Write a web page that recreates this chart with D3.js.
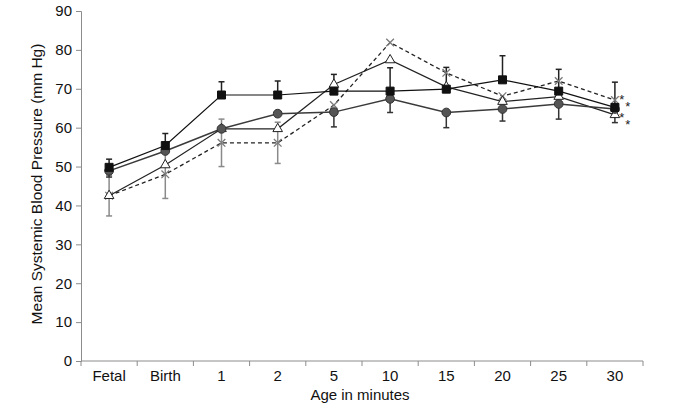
<!DOCTYPE html>
<html><head><meta charset="utf-8">
<script src="https://cdn.jsdelivr.net/npm/d3@7"></script>
<style>
html,body{margin:0;padding:0;background:#fff;}
svg{display:block;font-family:"Liberation Sans",Arial,sans-serif;}
</style></head>
<body><svg id="chart" width="675" height="408"></svg>
<script>
const categories = ["Fetal","Birth","1","2","5","10","15","20","25","30"];
const yTicks = [0,10,20,30,40,50,60,70,80,90];
const squareVals   = [49.8, 55.4, 68.4, 68.4, 69.4, 69.4, 69.9, 72.3, 69.4, 65.2];
const circleVals   = [48.9, 54.0, 59.7, 63.6, 64.0, 67.4, 63.9, 64.8, 66.1, 64.8];
const triangleVals = [42.5, 50.4, 59.7, 59.7, 71.1, 77.4, 70.5, 66.7, 68.0, 63.3];
const crossVals    = [42.5, 48.0, 56.1, 56.1, 65.8, 81.9, 74.1, 68.1, 72.0, 67.1];
const squareUpper  = [51.9, 58.5, 71.8, 72.0, 73.7, 75.4, 75.5, 78.5, 75.0, 71.7];
const circleLower  = [47.3, null, null, null, 60.2, 63.9, 60.0, 61.7, 62.2, 61.3];
const crossLower   = [37.3, 41.8, 50.0, 50.8, null, null, null, null, null, null];
const crossUpper   = [47.7, 54.2, 62.2, 61.4, null, null, null, null, null, null];
const asteriskVals = [68.1, 66.2, 63.3, 61.7];
const yTitle = "Mean Systemic Blood Pressure (mm Hg)";
const xTitle = "Age in minutes";

const svg = d3.select("#chart");
const x = d3.scaleBand().domain(categories).range([81, 643]).padding(0);
const y = d3.scaleLinear().domain([0, 90]).range([361, 11]);
const cx = c => x(c) + x.bandwidth() / 2;
const axisColor = "#8c8c8c";

// Y axis
const ya = svg.append("g").attr("transform", "translate(81,0)")
  .call(d3.axisLeft(y).tickValues(yTicks).tickSize(5).tickPadding(4).tickFormat(d3.format("d")));
ya.select(".domain").attr("stroke", axisColor);
ya.selectAll(".tick line").attr("stroke", axisColor);
ya.selectAll(".tick text").attr("font-size", 15).attr("fill", "#111")
  .attr("font-family", "'Liberation Sans',Arial,sans-serif");

// X axis (ticks at band boundaries)
const xa = svg.append("g");
xa.append("line").attr("x1", x.range()[0]).attr("x2", x.range()[1])
  .attr("y1", y(0)).attr("y2", y(0)).attr("stroke", axisColor);
const bounds = categories.map(c => x(c)).concat([x.range()[1]]);
xa.selectAll("line.tk").data(bounds).join("line").attr("class", "tk")
  .attr("x1", d => d).attr("x2", d => d).attr("y1", y(0)).attr("y2", y(0) + 5)
  .attr("stroke", axisColor);
xa.selectAll("text").data(categories).join("text")
  .attr("x", d => cx(d)).attr("y", 381).attr("text-anchor", "middle")
  .attr("font-size", 15).attr("fill", "#111").text(d => d);

// Titles
svg.append("text").attr("x", 360).attr("y", 400).attr("text-anchor", "middle")
  .attr("font-size", 15).attr("fill", "#111").text(xTitle);
svg.append("text").attr("transform", "translate(42,184) rotate(-90)")
  .attr("text-anchor", "middle").attr("font-size", 15.5).attr("fill", "#111").text(yTitle);

// Error bars
function errBars(vals, ends, color) {
  const d = categories.map((c, i) => ({c, v: vals[i], e: ends[i]})).filter(o => o.e != null);
  const g = svg.append("g").attr("stroke", color).attr("stroke-width", 1.5);
  g.selectAll("line.v").data(d).join("line").attr("class", "v")
    .attr("x1", o => cx(o.c)).attr("x2", o => cx(o.c)).attr("y1", o => y(o.v)).attr("y2", o => y(o.e));
  g.selectAll("line.cap").data(d).join("line").attr("class", "cap")
    .attr("x1", o => cx(o.c) - 3).attr("x2", o => cx(o.c) + 3).attr("y1", o => y(o.e)).attr("y2", o => y(o.e));
}
errBars(crossVals, crossLower, "#8a8a8a");
errBars(crossVals, crossUpper, "#8a8a8a");
errBars(squareVals, squareUpper, "#222");
errBars(circleVals, circleLower, "#333");

// Lines
const lineGen = vals => d3.line().x((d, i) => cx(categories[i])).y(d => y(d))(vals);
svg.append("path").attr("d", lineGen(crossVals)).attr("fill", "none")
  .attr("stroke", "#222").attr("stroke-width", 1.3).attr("stroke-dasharray", "4,3");
svg.append("path").attr("d", lineGen(triangleVals)).attr("fill", "none")
  .attr("stroke", "#222").attr("stroke-width", 1.2);
svg.append("path").attr("d", lineGen(circleVals)).attr("fill", "none")
  .attr("stroke", "#3a3a3a").attr("stroke-width", 1.5);
svg.append("path").attr("d", lineGen(squareVals)).attr("fill", "none")
  .attr("stroke", "#111").attr("stroke-width", 1.2);

// Markers
const cross = d3.symbol().type(d3.symbolX).size(40);
svg.append("g").selectAll("path").data(crossVals).join("path")
  .attr("transform", (d, i) => `translate(${cx(categories[i])},${y(d)})`)
  .attr("d", cross).attr("fill", "none").attr("stroke", "#7a7a7a").attr("stroke-width", 1.3);
const tri = d3.symbol().type(d3.symbolTriangle).size(40);
svg.append("g").selectAll("path").data(triangleVals).join("path")
  .attr("transform", (d, i) => `translate(${cx(categories[i])},${y(d)})`)
  .attr("d", tri).attr("fill", "#fff").attr("stroke", "#222").attr("stroke-width", 1);
const circ = d3.symbol().type(d3.symbolCircle).size(60);
svg.append("g").selectAll("path").data(circleVals).join("path")
  .attr("transform", (d, i) => `translate(${cx(categories[i])},${y(d)})`)
  .attr("d", circ).attr("fill", "#555").attr("stroke", "#333").attr("stroke-width", 1);
const sq = d3.symbol().type(d3.symbolSquare).size(64);
svg.append("g").selectAll("path").data(squareVals).join("path")
  .attr("transform", (d, i) => `translate(${cx(categories[i])},${y(d)})`)
  .attr("d", sq).attr("fill", "#111").attr("stroke", "#111").attr("stroke-width", 1);

// Asterisks (staggered slightly so neighbouring marks do not collide)
const last = categories[categories.length - 1];
svg.append("g").selectAll("text").data(asteriskVals).join("text")
  .attr("x", (d, i) => cx(last) + (i % 2 ? 13 : 7)).attr("y", d => y(d) + 7.5)
  .attr("text-anchor", "middle").attr("font-size", 13).attr("fill", "#222").text("*");
</script></body></html>
